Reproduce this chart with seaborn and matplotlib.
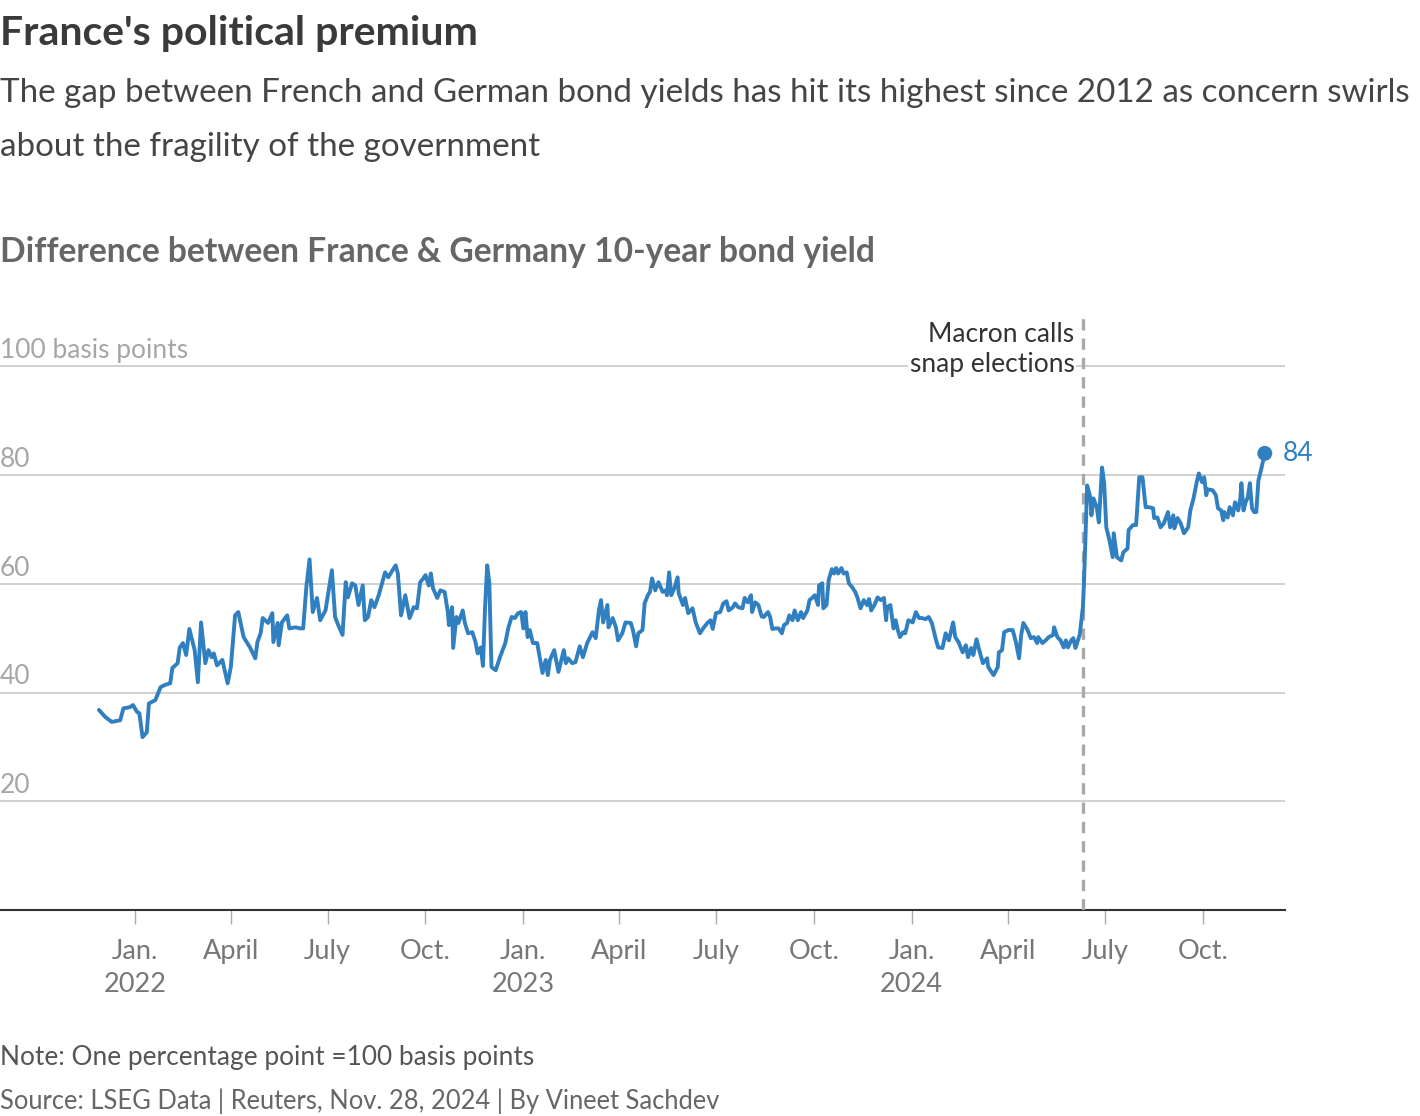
import matplotlib
matplotlib.use("Agg")
import matplotlib.pyplot as plt
import seaborn as sns
import pandas as pd

# ---------------- data ----------------
dates = [
    "2021-11-28", "2021-12-04", "2021-12-10", "2021-12-18", "2021-12-21", "2021-12-27", "2021-12-30",
    "2022-01-03", "2022-01-05", "2022-01-08", "2022-01-12", "2022-01-14", "2022-01-20", "2022-01-25",
    "2022-01-29", "2022-02-03", "2022-02-05", "2022-02-10", "2022-02-12", "2022-02-15", "2022-02-18",
    "2022-02-21", "2022-02-26", "2022-03-01", "2022-03-04", "2022-03-08", "2022-03-11", "2022-03-14",
    "2022-03-16", "2022-03-19", "2022-03-24", "2022-03-29", "2022-04-01", "2022-04-05", "2022-04-08",
    "2022-04-13", "2022-04-19", "2022-04-24", "2022-04-26", "2022-04-29", "2022-05-01", "2022-05-06",
    "2022-05-10", "2022-05-11", "2022-05-15", "2022-05-16", "2022-05-19", "2022-05-24", "2022-05-26",
    "2022-06-01", "2022-06-05", "2022-06-08", "2022-06-11", "2022-06-14", "2022-06-17", "2022-06-21",
    "2022-06-24", "2022-06-29", "2022-07-02", "2022-07-05", "2022-07-08", "2022-07-11", "2022-07-15",
    "2022-07-18", "2022-07-20", "2022-07-24", "2022-07-27", "2022-07-30", "2022-08-03", "2022-08-05",
    "2022-08-08", "2022-08-11", "2022-08-14", "2022-08-18", "2022-08-22", "2022-08-24", "2022-08-27",
    "2022-08-31", "2022-09-03", "2022-09-05", "2022-09-08", "2022-09-12", "2022-09-16", "2022-09-20",
    "2022-09-23", "2022-09-26", "2022-09-29", "2022-10-01", "2022-10-04", "2022-10-06", "2022-10-08",
    "2022-10-12", "2022-10-15", "2022-10-19", "2022-10-22", "2022-10-23", "2022-10-26", "2022-10-27",
    "2022-10-30", "2022-11-01", "2022-11-05", "2022-11-07", "2022-11-10", "2022-11-14", "2022-11-17",
    "2022-11-19", "2022-11-22", "2022-11-24", "2022-11-26", "2022-11-28", "2022-11-30", "2022-12-02",
    "2022-12-06", "2022-12-10", "2022-12-15", "2022-12-18", "2022-12-21", "2022-12-24", "2022-12-27",
    "2022-12-30", "2023-01-01", "2023-01-03", "2023-01-05", "2023-01-07", "2023-01-10", "2023-01-14",
    "2023-01-19", "2023-01-22", "2023-01-24", "2023-01-26", "2023-01-30", "2023-02-03", "2023-02-08",
    "2023-02-10", "2023-02-12", "2023-02-16", "2023-02-19", "2023-02-23", "2023-02-26", "2023-03-02",
    "2023-03-07", "2023-03-10", "2023-03-13", "2023-03-15", "2023-03-17", "2023-03-21", "2023-03-22",
    "2023-03-26", "2023-03-29", "2023-03-31", "2023-04-04", "2023-04-07", "2023-04-12", "2023-04-14",
    "2023-04-17", "2023-04-19", "2023-04-23", "2023-04-25", "2023-04-28", "2023-04-30", "2023-05-02",
    "2023-05-05", "2023-05-08", "2023-05-12", "2023-05-15", "2023-05-16", "2023-05-18", "2023-05-20",
    "2023-05-23", "2023-05-26", "2023-05-27", "2023-05-31", "2023-06-02", "2023-06-05", "2023-06-09",
    "2023-06-12", "2023-06-16", "2023-06-19", "2023-06-23", "2023-06-26", "2023-06-28", "2023-07-01",
    "2023-07-05", "2023-07-08", "2023-07-11", "2023-07-13", "2023-07-17", "2023-07-19", "2023-07-22",
    "2023-07-26", "2023-07-28", "2023-07-31", "2023-08-03", "2023-08-04", "2023-08-07", "2023-08-10",
    "2023-08-13", "2023-08-15", "2023-08-19", "2023-08-21", "2023-08-23", "2023-08-26", "2023-08-29",
    "2023-09-01", "2023-09-03", "2023-09-06", "2023-09-08", "2023-09-11", "2023-09-13", "2023-09-16",
    "2023-09-19", "2023-09-21", "2023-09-25", "2023-09-27", "2023-09-30", "2023-10-02", "2023-10-05",
    "2023-10-06", "2023-10-09", "2023-10-10", "2023-10-13", "2023-10-15", "2023-10-18", "2023-10-20",
    "2023-10-22", "2023-10-24", "2023-10-27", "2023-10-29", "2023-11-01", "2023-11-03", "2023-11-06",
    "2023-11-09", "2023-11-11", "2023-11-14", "2023-11-17", "2023-11-20", "2023-11-22", "2023-11-24",
    "2023-11-27", "2023-11-30", "2023-12-03", "2023-12-06", "2023-12-08", "2023-12-09", "2023-12-12",
    "2023-12-15", "2023-12-17", "2023-12-19", "2023-12-21", "2023-12-24", "2023-12-26", "2023-12-29",
    "2024-01-02", "2024-01-05", "2024-01-08", "2024-01-11", "2024-01-14", "2024-01-17", "2024-01-20",
    "2024-01-24", "2024-01-26", "2024-01-30", "2024-02-02", "2024-02-05", "2024-02-09", "2024-02-11",
    "2024-02-14", "2024-02-18", "2024-02-21", "2024-02-23", "2024-02-26", "2024-02-28", "2024-03-02",
    "2024-03-04", "2024-03-08", "2024-03-12", "2024-03-13", "2024-03-18", "2024-03-22", "2024-03-23",
    "2024-03-26", "2024-03-28", "2024-04-01", "2024-04-05", "2024-04-08", "2024-04-11", "2024-04-13",
    "2024-04-15", "2024-04-19", "2024-04-22", "2024-04-25", "2024-04-28", "2024-04-29", "2024-05-03",
    "2024-05-06", "2024-05-09", "2024-05-13", "2024-05-14", "2024-05-17", "2024-05-20", "2024-05-23",
    "2024-05-25", "2024-05-27", "2024-05-30", "2024-06-01", "2024-06-03", "2024-06-07", "2024-06-10",
    "2024-06-11", "2024-06-12", "2024-06-13", "2024-06-14", "2024-06-17", "2024-06-18", "2024-06-20",
    "2024-06-23", "2024-06-25", "2024-06-28", "2024-06-30", "2024-07-02", "2024-07-05", "2024-07-08",
    "2024-07-09", "2024-07-12", "2024-07-16", "2024-07-18", "2024-07-22", "2024-07-23", "2024-07-27",
    "2024-07-30", "2024-08-02", "2024-08-05", "2024-08-08", "2024-08-11", "2024-08-15", "2024-08-16",
    "2024-08-19", "2024-08-22", "2024-08-25", "2024-08-29", "2024-08-31", "2024-09-03", "2024-09-04",
    "2024-09-07", "2024-09-10", "2024-09-13", "2024-09-17", "2024-09-19", "2024-09-22", "2024-09-25",
    "2024-09-27", "2024-09-30", "2024-10-02", "2024-10-04", "2024-10-05", "2024-10-10", "2024-10-13",
    "2024-10-15", "2024-10-18", "2024-10-20", "2024-10-21", "2024-10-24", "2024-10-26", "2024-10-29",
    "2024-10-31", "2024-11-03", "2024-11-05", "2024-11-06", "2024-11-08", "2024-11-10", "2024-11-12",
    "2024-11-14", "2024-11-16", "2024-11-18", "2024-11-20", "2024-11-22", "2024-11-25", "2024-11-28",
]
spread_bp = [
    36.8, 35.5, 34.6, 34.9, 37.1, 37.3, 37.7,
    36.4, 36.2, 31.8, 32.7, 38.0, 38.6, 41.0,
    41.4, 41.7, 44.5, 45.4, 48.3, 49.1, 46.9,
    51.7, 47.8, 41.9, 52.9, 45.4, 47.8, 46.5,
    47.2, 45.0, 46.0, 41.7, 44.7, 54.2, 54.8,
    50.2, 48.3, 46.3, 49.3, 50.9, 53.7, 52.8,
    54.6, 49.3, 52.8, 48.7, 52.9, 54.2, 51.8,
    52.0, 51.8, 51.8, 59.4, 64.5, 54.8, 57.4,
    53.3, 55.1, 58.8, 62.5, 53.9, 52.4, 50.6,
    60.3, 57.5, 60.1, 59.7, 56.1, 59.7, 53.3,
    53.9, 57.0, 55.7, 57.9, 60.7, 62.1, 61.2,
    62.5, 63.4, 61.9, 54.2, 57.9, 53.7, 55.7,
    55.5, 60.3, 61.0, 61.6, 59.7, 61.9, 59.2,
    57.4, 58.8, 58.5, 54.8, 52.4, 55.7, 48.2,
    53.9, 52.8, 55.1, 52.8, 50.9, 51.1, 49.3,
    47.2, 48.3, 44.9, 55.7, 63.4, 60.1, 44.7,
    44.1, 46.5, 49.1, 52.0, 53.9, 53.7, 54.6,
    54.8, 51.8, 54.8, 50.2, 51.5, 49.1, 49.1,
    43.6, 46.0, 43.2, 46.0, 47.8, 43.8, 47.8,
    45.4, 46.3, 45.4, 45.6, 48.5, 46.5, 49.1,
    51.1, 50.0, 55.1, 57.0, 52.9, 56.1, 52.0,
    53.7, 52.0, 49.6, 50.9, 52.9, 52.8, 51.5,
    48.5, 50.9, 51.5, 56.4, 57.9, 58.5, 61.0,
    58.8, 60.3, 58.5, 58.8, 57.9, 62.1, 57.9,
    59.2, 61.2, 58.3, 56.1, 57.4, 54.6, 55.5,
    52.9, 50.9, 51.8, 52.8, 53.3, 51.7, 54.6,
    54.8, 56.4, 56.8, 55.1, 55.7, 56.4, 55.7,
    55.5, 57.4, 56.6, 57.9, 54.8, 56.6, 56.1,
    54.0, 53.9, 54.8, 53.9, 51.7, 51.8, 51.8,
    50.9, 52.4, 52.8, 54.2, 53.3, 55.1, 53.3,
    54.8, 53.7, 55.1, 57.0, 57.5, 57.9, 56.1,
    59.7, 60.1, 55.5, 56.1, 60.7, 62.7, 61.9,
    62.9, 61.9, 62.9, 61.9, 62.1, 60.1, 59.4,
    58.5, 57.5, 55.5, 57.0, 56.1, 57.2, 55.1,
    56.1, 57.5, 57.0, 57.4, 53.3, 55.7, 56.1,
    51.8, 53.3, 51.5, 50.2, 51.1, 50.9, 53.3,
    52.9, 54.8, 53.7, 53.7, 53.5, 53.9, 52.8,
    49.6, 48.3, 48.2, 50.9, 49.6, 52.9, 50.2,
    49.3, 47.4, 48.7, 46.5, 48.2, 46.9, 49.8,
    48.2, 45.4, 46.3, 44.7, 43.2, 44.7, 47.4,
    47.8, 51.1, 51.5, 51.5, 49.3, 46.3, 50.6,
    52.8, 51.5, 50.0, 50.2, 49.1, 50.2, 49.1,
    49.6, 50.2, 50.6, 52.0, 50.2, 49.6, 48.3,
    49.6, 48.3, 49.6, 50.0, 48.2, 50.6, 55.7,
    60.0, 66.0, 72.0, 78.1, 75.9, 72.6, 75.7,
    74.1, 71.3, 81.4, 78.5, 70.4, 68.0, 64.9,
    69.3, 64.9, 64.3, 65.8, 66.5, 69.9, 70.8,
    70.8, 79.6, 79.6, 74.1, 74.1, 73.9, 72.1,
    72.2, 70.4, 71.1, 73.2, 70.4, 72.6, 70.2,
    72.1, 71.1, 69.3, 70.4, 73.5, 75.7, 78.7,
    80.3, 78.7, 79.6, 76.3, 77.4, 77.2, 76.3,
    73.9, 73.5, 71.7, 73.2, 72.2, 74.1, 72.6,
    75.0, 73.5, 75.7, 78.5, 73.5, 75.0, 75.9,
    78.5, 73.9, 73.2, 73.2, 79.0, 81.4, 84.0,
]

tick_dates = ["2022-01-01", "2022-04-01", "2022-07-01", "2022-10-01",
              "2023-01-01", "2023-04-01", "2023-07-01", "2023-10-01",
              "2024-01-01", "2024-04-01", "2024-07-01", "2024-10-01"]
tick_labels = ["Jan.\n2022", "April", "July", "Oct.",
               "Jan.\n2023", "April", "July", "Oct.",
               "Jan.\n2024", "April", "July", "Oct."]
y_ticks = [20, 40, 60, 80, 100]
y_labels = ["20", "40", "60", "80", "100 basis points"]

event_date = "2024-06-10"
event_label = "Macron calls\nsnap elections"

title = "France's political premium"
subtitle_lines = ["The gap between French and German bond yields has hit its highest since 2012 as concern swirls",
                  "about the fragility of the government"]
chart_title = "Difference between France & Germany 10-year bond yield"
note = "Note: One percentage point =100 basis points"
source = "Source: LSEG Data | Reuters, Nov. 28, 2024 | By Vineet Sachdev"

# ---------------- style ----------------
sns.set_theme(style="white")
plt.rcParams['font.family'] = ['Lato', 'DejaVu Sans']

LINE = "#2f7fc1"
GRID = "#c4c4c4"

df = pd.DataFrame({"date": pd.to_datetime(dates), "spread": spread_bp})

fig = plt.figure(figsize=(14.2, 11.16), dpi=100)
W, H = 1420, 1116
ax = fig.add_axes([0, 1 - 910 / H, 1285 / W, (910 - 312) / H])

# gridlines
for v in y_ticks:
    ax.axhline(v, color=GRID, lw=1.1, zorder=1)

sns.lineplot(data=df, x="date", y="spread", ax=ax, color=LINE, lw=2.8, zorder=4)

# end point
last = df.iloc[-1]
ax.scatter([last["date"]], [last["spread"]], s=115, color=LINE, zorder=5, edgecolor="none")
ax.annotate(f"{last['spread']:.0f}", (last["date"], last["spread"]), xytext=(13, 0),
            textcoords="offset points", color=LINE, fontsize=19, va="center", ha="left")

# event line
ev = pd.Timestamp(event_date)
ax.axvline(ev, color="#a9a9a9", lw=2.4, ls=(0, (3.4, 2.4)), zorder=3)
ax.annotate(event_label, (ev, 99.0), xytext=(-6, 0), textcoords="offset points",
            ha="right", va="baseline", fontsize=19, color="#333333", linespacing=1.22,
            bbox=dict(facecolor="white", edgecolor="none", pad=1), zorder=6)

# limits
ax.set_xlim(pd.Timestamp("2021-08-27"), pd.Timestamp("2024-12-17"))
ax.set_ylim(0, 110)

# y labels drawn above gridlines at left
ax.set_yticks([])
for v, lab in zip(y_ticks, y_labels):
    ax.text(0, v + 1.5, lab, transform=ax.get_yaxis_transform(), ha="left", va="baseline",
            fontsize=19, color="#a6a6a6")

# x axis
ax.set_xticks(pd.to_datetime(tick_dates))
ax.set_xticklabels(tick_labels, fontsize=19.5, color="#777777", linespacing=1.4)
ax.tick_params(axis="x", length=10, width=1, color="#aaaaaa", pad=11, direction="out", bottom=True)
ax.set_xlabel("")
ax.set_ylabel("")
for s in ["top", "right", "left"]:
    ax.spines[s].set_visible(False)
ax.spines["bottom"].set_color("#333333")
ax.spines["bottom"].set_linewidth(1.5)
ax.patch.set_alpha(0)

# texts
fig.text(0, 1 - 45 / H, title, fontsize=29.5, fontweight="bold", color="#3a3a3a", ha="left", va="baseline")
fig.text(0, 1 - 102 / H, subtitle_lines[0], fontsize=23.9, color="#454545", ha="left", va="baseline")
fig.text(0, 1 - 156 / H, subtitle_lines[1], fontsize=23.9, color="#454545", ha="left", va="baseline")
fig.text(0, 1 - 262 / H, chart_title, fontsize=24.2, fontweight="bold", color="#666666", ha="left", va="baseline")
fig.text(0, 1 - 1065 / H, note, fontsize=18.9, color="#555555", ha="left", va="baseline")
fig.text(0, 1 - 1109 / H, source, fontsize=18.4, color="#666666", ha="left", va="baseline")

fig.savefig("out.png", dpi=100, facecolor="white")
